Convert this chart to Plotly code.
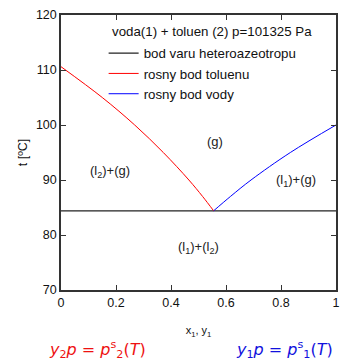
import plotly.graph_objects as go

# heteroazeotrope boiling temperature and line
azeo_x = [0.0, 1.0]
azeo_t = [84.4, 84.4]

# dew point of toluene (red)
tol_y1 = [0.0, 0.150, 0.268, 0.372, 0.465, 0.515, 0.555]
tol_t = [110.6, 105.0, 100.0, 95.0, 90.0, 87.0, 84.4]

# dew point of water (blue)
wat_y1 = [0.555, 0.616, 0.691, 0.834, 1.0]
wat_t = [84.4, 87.0, 90.0, 95.0, 100.0]

x_ticks = [0, 0.2, 0.4, 0.6, 0.8, 1]
x_tick_labels = ["0", "0.2", "0.4", "0.6", "0.8", "1"]
y_ticks = [70, 80, 90, 100, 110, 120]

region_labels = ["(g)", "(l<sub>2</sub>)+(g)", "(l<sub>1</sub>)+(g)", "(l<sub>1</sub>)+(l<sub>2</sub>)"]
region_x = [0.56, 0.178, 0.853, 0.50]
region_t = [97.0, 91.6, 90.0, 77.7]

legend_title = "voda(1) + toluen (2) p=101325 Pa"

FONT = "Liberation Sans, Arial, sans-serif"

fig = go.Figure()
fig.add_trace(go.Scatter(x=azeo_x, y=azeo_t, mode="lines", name="bod varu heteroazeotropu",
                         line=dict(color="#222222", width=1.3)))
fig.add_trace(go.Scatter(x=tol_y1, y=tol_t, mode="lines", name="rosny bod toluenu",
                         line=dict(color="#ff0000", width=1, shape="spline")))
fig.add_trace(go.Scatter(x=wat_y1, y=wat_t, mode="lines", name="rosny bod vody",
                         line=dict(color="#0000ff", width=1, shape="spline")))

for txt, xx, tt in zip(region_labels, region_x, region_t):
    fig.add_annotation(x=xx, y=tt, text=txt, showarrow=False,
                       font=dict(family=FONT, size=13, color="#222222"))

# legend title as a text line
fig.add_annotation(xref="paper", yref="paper", x=(110 - 61) / 275, y=1 - (32 - 15) / 275,
                   text=legend_title, showarrow=False, xanchor="left", yanchor="middle",
                   font=dict(family=FONT, size=13.3, color="#111111"))

fig.add_annotation(xref="paper", yref="paper", x=(97 - 61) / 275, y=-(349 - 290) / 275,
                   text="<i>y</i><sub>2</sub><i>p</i> = <i>p</i><sup>s</sup><sub>2</sub>(<i>T</i>)",
                   showarrow=False, xanchor="center", yanchor="middle",
                   font=dict(family="DejaVu Sans", size=16, color="#ee1111"))
fig.add_annotation(xref="paper", yref="paper", x=(284 - 61) / 275, y=-(349 - 290) / 275,
                   text="<i>y</i><sub>1</sub><i>p</i> = <i>p</i><sup>s</sup><sub>1</sub>(<i>T</i>)",
                   showarrow=False, xanchor="center", yanchor="middle",
                   font=dict(family="DejaVu Sans", size=16, color="#1111dd"))

axis_common = dict(showline=True, linecolor="#333333", linewidth=1.5, mirror="ticks",
                   ticks="inside", ticklen=5, tickcolor="#333333", tickwidth=1,
                   showgrid=False, zeroline=False, automargin=False,
                   tickfont=dict(family=FONT, size=12.5, color="#111111"))

fig.update_layout(
    width=340, height=360,
    margin=dict(l=61, r=4, t=15, b=70, autoexpand=False),
    paper_bgcolor="white", plot_bgcolor="white",
    showlegend=True,
    legend=dict(x=0.155, y=1 - (38 - 15) / 275, xanchor="left", yanchor="top",
                bgcolor="rgba(0,0,0,0)", borderwidth=0,
                font=dict(family=FONT, size=13.3, color="#111111"),
                tracegroupgap=0),
    xaxis=dict(range=[0, 1], tickvals=x_ticks, ticktext=x_tick_labels,
               title=dict(text="x<sub>1</sub>, y<sub>1</sub>", font=dict(family=FONT, size=11, color="#111111"),
                          standoff=18),
               **axis_common),
    yaxis=dict(range=[70, 120], tickvals=y_ticks,
               title=dict(text="t [ºC]", font=dict(family=FONT, size=12.5, color="#111111"), standoff=6),
               **axis_common),
)

fig.write_html("out.html")
